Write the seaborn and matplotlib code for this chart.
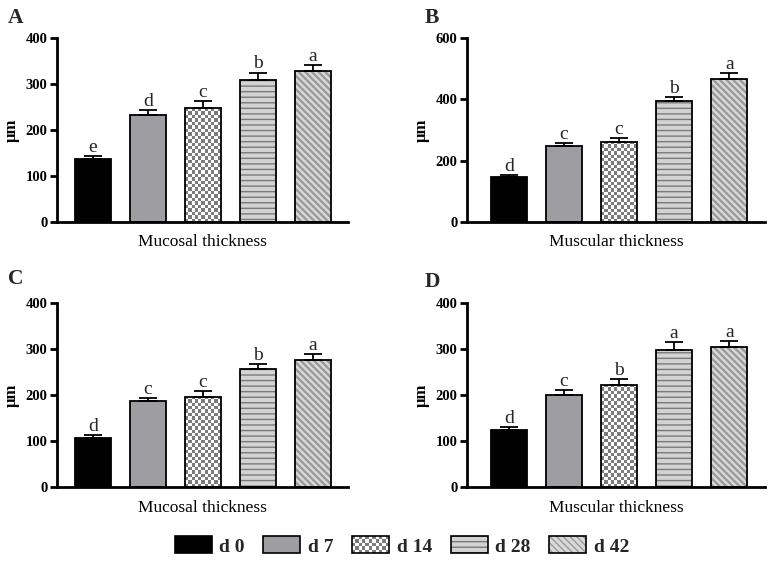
import numpy as np
import pandas as pd
import seaborn as sns
import matplotlib.pyplot as plt
from matplotlib.patches import Rectangle, Patch
from matplotlib.legend_handler import HandlerPatch
from matplotlib.image import BboxImage
from matplotlib.transforms import Bbox, TransformedBbox

sns.set_theme(style="ticks")
plt.rcParams['font.family'] = ['Liberation Serif', 'DejaVu Serif']
plt.rcParams['hatch.linewidth'] = 1.0

# data
days = ['d 0', 'd 7', 'd 14', 'd 28', 'd 42']

mucosal_a = [137, 233, 247, 309, 328]
mucosal_a_err = [7, 11, 16, 16, 13]
mucosal_a_sig = ['e', 'd', 'c', 'b', 'a']

muscular_b = [147, 247, 261, 393, 465]
muscular_b_err = [7, 11, 14, 15, 20]
muscular_b_sig = ['d', 'c', 'c', 'b', 'a']

mucosal_c = [107, 186, 196, 256, 277]
mucosal_c_err = [5, 8, 12, 11, 12]
mucosal_c_sig = ['d', 'c', 'c', 'b', 'a']

muscular_d = [125, 201, 222, 298, 305]
muscular_d_err = [5, 9, 13, 17, 13]
muscular_d_sig = ['d', 'c', 'b', 'a', 'a']

# styling per day
fills = ['#000000', '#9e9ea2', '#ffffff', '#d3d3d3', '#dadada']
hatches = [None, None, None, '---', '\\' * 5]
hatch_cols = ['#000000', '#9e9ea2', '#7c7c7c', '#7a7a7a', '#9a9a9a']
hatch_lws = [1.0, 1.0, 1.0, 1.0, 1.7]

W, H = 773, 564


def checker(nx, ny):
    i, j = np.indices((ny, nx))
    g = np.where((i + j) % 2 == 0, 0.49, 1.0)
    return np.dstack([g, g, g])


class Swatch(HandlerPatch):
    def create_artists(self, legend, orig_handle, xdescent, ydescent,
                       width, height, fontsize, trans):
        arts = super().create_artists(legend, orig_handle, xdescent, ydescent,
                                      width, height, fontsize, trans)
        if getattr(orig_handle, 'checker', False):
            box = TransformedBbox(Bbox.from_bounds(-xdescent, -ydescent, width, height), trans)
            img = BboxImage(box, interpolation='nearest')
            img.set_data(checker(11, 5))
            arts.append(img)
        arts.append(Rectangle((-xdescent, -ydescent), width, height, fill=False,
                              edgecolor='black', linewidth=1.2, transform=trans))
        return arts


def panel(ax, values, errs, sig, ymax, xlabel, xlim):
    df = pd.DataFrame({'day': days, 'value': values})
    sns.barplot(data=df, x='day', y='value', hue='day', order=days, hue_order=days,
                palette=fills, saturation=1, width=0.65, errorbar=None,
                legend=False, linewidth=0, ax=ax)
    ax.set_xlim(*xlim)
    ax.set_ylim(0, ymax)

    bars = sorted(ax.patches, key=lambda p: p.get_x())
    for i, p in enumerate(bars):
        p.set_edgecolor(hatch_cols[i])
        p.set_linewidth(0)
        if hatches[i]:
            p.set_hatch(hatches[i])
            if hasattr(p, 'set_hatch_linewidth'):
                p.set_hatch_linewidth(hatch_lws[i])
        x0, w, h = p.get_x(), p.get_width(), p.get_height()
        if i == 2:
            (px0, py0), (px1, py1) = ax.transData.transform([(x0, 0), (x0 + w, h)])
            nx = max(1, int(round((px1 - px0) / 3.4)))
            ny = max(1, int(round((py1 - py0) / 3.4)))
            im = ax.imshow(checker(nx, ny), extent=(x0, x0 + w, 0, h), origin='lower',
                           aspect='auto', interpolation='nearest', zorder=1.5)
            im.set_clip_path(p)
        ax.add_patch(Rectangle((x0, 0), w, h, fill=False, edgecolor='black',
                               linewidth=1.3, zorder=2))

    centers = [p.get_x() + p.get_width() / 2 for p in bars]
    ax.errorbar(centers, values, yerr=[np.zeros(len(errs)), errs], fmt='none',
                ecolor='black', elinewidth=1.3, capsize=6.5, capthick=1.3, zorder=3)
    for xc, v, e, s in zip(centers, values, errs, sig):
        ax.text(xc, v + e + ymax * 0.022, s, ha='center', va='baseline', fontsize=14)

    ax.set_xlim(*xlim)
    ax.set_ylim(0, ymax)
    ax.set_xticks([])
    ax.set_yticks(np.arange(0, ymax + 1, 100 if ymax == 400 else 200))
    for lbl in ax.get_yticklabels():
        lbl.set_fontweight('bold')
    ax.tick_params(axis='y', width=2.0, length=5, labelsize=10.5, pad=2, colors='black')
    sns.despine(ax=ax)
    for sp in ['left', 'bottom']:
        ax.spines[sp].set_linewidth(2.0)
        ax.spines[sp].set_color('black')
    ax.set_xlabel(xlabel, fontsize=12.5, labelpad=9, color='black')
    ax.set_ylabel('μm', fontsize=12, fontweight='bold', labelpad=4, color='black')


fig = plt.figure(figsize=(W / 100, H / 100), dpi=100)
axA = fig.add_axes([57 / W, 1 - 222 / H, 291 / W, 184 / H])
axB = fig.add_axes([467 / W, 1 - 222 / H, 298 / W, 184 / H])
axC = fig.add_axes([57 / W, 1 - 487 / H, 291 / W, 184 / H])
axD = fig.add_axes([467 / W, 1 - 487 / H, 298 / W, 184 / H])

panel(axA, mucosal_a, mucosal_a_err, mucosal_a_sig, 400, 'Mucosal thickness', (-0.65, 4.64))
panel(axB, muscular_b, muscular_b_err, muscular_b_sig, 600, 'Muscular thickness', (-0.76, 4.65))
panel(axC, mucosal_c, mucosal_c_err, mucosal_c_sig, 400, 'Mucosal thickness', (-0.65, 4.64))
panel(axD, muscular_d, muscular_d_err, muscular_d_sig, 400, 'Muscular thickness', (-0.76, 4.65))

for tag, x, yb in [('A', 8, 23), ('B', 425, 23), ('C', 8, 284), ('D', 425, 287)]:
    fig.text(x / W, 1 - yb / H, tag, fontsize=15.5, fontweight='bold', va='baseline')

handles = []
for i, d in enumerate(days):
    h = Patch(facecolor=fills[i], edgecolor=hatch_cols[i], hatch=hatches[i], linewidth=0)
    if hatches[i] and hasattr(h, 'set_hatch_linewidth'):
        h.set_hatch_linewidth(hatch_lws[i])
    h.checker = (i == 2)
    handles.append(h)

fig.legend(handles, days, loc='center', bbox_to_anchor=(402 / W, 1 - 546 / H), ncol=5,
           frameon=False, prop={'weight': 'bold', 'size': 14}, handlelength=1.9,
           handleheight=0.95, handletextpad=0.4, columnspacing=0.95,
           handler_map={Patch: Swatch()})

fig.savefig('out.png', dpi=100)
